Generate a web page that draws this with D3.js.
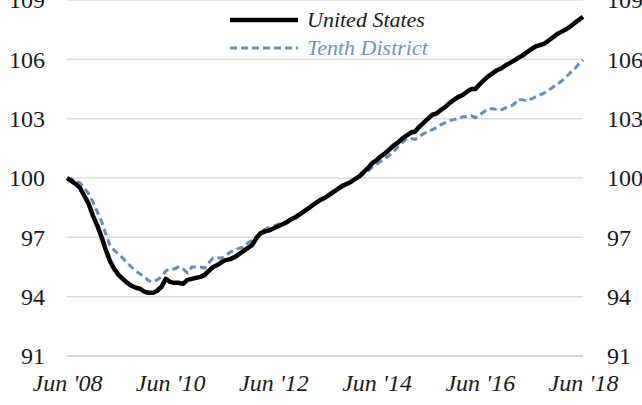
<!DOCTYPE html>
<html>
<head>
<meta charset="utf-8">
<script src="https://cdn.jsdelivr.net/npm/d3@7"></script>
</head>
<body style="margin:0;background:#fff">
<svg id="chart" width="642" height="405" font-family="Liberation Serif" style="display:block"></svg>
<script>
// monthly index, Jun 2008 = 100, through Jun 2018
const startMonth = new Date(2008, 5, 1);

const unitedStates = [
  100.0, 99.85, 99.7, 99.5, 99.1, 98.7, 98.1, 97.6, 97.0, 96.4, 95.8, 95.4,
  95.1, 94.9, 94.7, 94.55, 94.45, 94.4, 94.25, 94.2, 94.2, 94.3, 94.5, 94.9,
  94.75, 94.7, 94.7, 94.65, 94.85, 94.9, 94.95, 95.0, 95.1, 95.3, 95.5, 95.6,
  95.75, 95.85, 95.9, 96.0, 96.15, 96.3, 96.45, 96.6, 96.95, 97.2, 97.3, 97.35,
  97.45, 97.55, 97.65, 97.75, 97.9, 98.0, 98.15, 98.3, 98.45, 98.6, 98.75, 98.9,
  99.0, 99.15, 99.3, 99.45, 99.6, 99.7, 99.8, 99.95, 100.1, 100.3, 100.5, 100.75,
  100.9, 101.1, 101.25, 101.45, 101.65, 101.8, 102.0, 102.15, 102.3, 102.35, 102.6, 102.8,
  103.0, 103.2, 103.27, 103.45, 103.6, 103.8, 103.95, 104.1, 104.2, 104.35, 104.5, 104.5,
  104.75, 104.95, 105.15, 105.3, 105.45, 105.55, 105.7, 105.82, 105.95, 106.08, 106.2, 106.37,
  106.52, 106.65, 106.72, 106.8, 106.95, 107.12, 107.28, 107.4, 107.52, 107.65, 107.82, 107.98,
  108.15
];

const tenthDistrict = [
  100.0, 99.95, 99.85, 99.75, 99.5, 99.2, 98.8, 98.3, 97.8, 97.2, 96.6, 96.35,
  96.15, 95.95, 95.7, 95.5, 95.3, 95.15, 95.0, 94.8, 94.75, 94.85, 95.0, 95.3,
  95.4, 95.4, 95.5, 95.4, 95.2, 95.5, 95.5, 95.5, 95.45, 95.7, 95.95, 95.95,
  95.95, 96.1, 96.25, 96.35, 96.45, 96.5, 96.7, 96.85, 97.05, 97.25, 97.4, 97.5,
  97.55, 97.65, 97.72, 97.8, 97.95, 98.05, 98.2, 98.3, 98.45, 98.6, 98.75, 98.85,
  99.0, 99.15, 99.3, 99.4, 99.55, 99.65, 99.8, 99.9, 100.05, 100.2, 100.35, 100.55,
  100.7, 100.85, 101.0, 101.15, 101.35, 101.6, 101.8, 102.0, 102.0, 101.95, 102.1, 102.25,
  102.35, 102.45, 102.55, 102.7, 102.8, 102.9, 102.95, 103.0, 103.1, 103.1, 103.15, 103.05,
  103.2, 103.35, 103.5, 103.5, 103.45, 103.45, 103.55, 103.6, 103.75, 103.98, 103.95, 103.9,
  104.0, 104.1, 104.2, 104.3, 104.45, 104.6, 104.75, 104.9, 105.1, 105.3, 105.5, 105.75,
  105.97
];

const yTicks = [91, 94, 97, 100, 103, 106, 109];
const xTickYears = [2008, 2010, 2012, 2014, 2016, 2018];

const width = 642, height = 405;
const margin = { top: 0, right: 59, bottom: 49, left: 67 };

const svg = d3.select("#chart");

const months = unitedStates.map((d, i) => d3.timeMonth.offset(startMonth, i));

const x = d3.scaleTime()
  .domain([months[0], months[months.length - 1]])
  .range([margin.left, width - margin.right]);

const y = d3.scaleLinear()
  .domain([91, 109])
  .range([height - margin.bottom, margin.top]);

// gridlines
svg.append("g")
  .selectAll("line")
  .data(yTicks)
  .enter().append("line")
  .attr("x1", x.range()[0])
  .attr("x2", x.range()[1])
  .attr("y1", d => y(d))
  .attr("y2", d => y(d))
  .attr("stroke", d => d === 91 ? "#c4c4c4" : "#dcdcdc")
  .attr("stroke-width", 1.5);

// y labels both sides
const yLeft = d3.axisLeft(y).tickValues(yTicks).tickSize(0).tickPadding(22);
const yRight = d3.axisRight(y).tickValues(yTicks).tickSize(0).tickPadding(24);

svg.append("g")
  .attr("transform", "translate(" + margin.left + ",0)")
  .call(yLeft)
  .call(g => g.select(".domain").remove())
  .call(g => g.attr("font-family", null).attr("font-size", null))
  .selectAll("text")
  .attr("font-family", "Liberation Serif")
  .attr("font-size", 24)
  .attr("fill", "#1a1a1a");

svg.append("g")
  .attr("transform", "translate(" + (width - margin.right) + ",0)")
  .call(yRight)
  .call(g => g.select(".domain").remove())
  .call(g => g.attr("font-family", null).attr("font-size", null))
  .selectAll("text")
  .attr("font-family", "Liberation Serif")
  .attr("font-size", 24)
  .attr("fill", "#1a1a1a");

// x labels
const xAxis = d3.axisBottom(x)
  .tickValues(xTickYears.map(yr => new Date(yr, 5, 1)))
  .tickSize(0)
  .tickPadding(18)
  .tickFormat(d => "Jun '" + d3.timeFormat("%y")(d));

svg.append("g")
  .attr("transform", "translate(0," + y(91) + ")")
  .call(xAxis)
  .call(g => g.select(".domain").remove())
  .call(g => g.attr("font-family", null).attr("font-size", null))
  .selectAll("text")
  .attr("font-family", "Liberation Serif")
  .attr("font-size", 24)
  .attr("font-style", "italic")
  .attr("fill", "#1a1a1a");

// lines
const line = d3.line()
  .x((d, i) => x(months[i]))
  .y(d => y(d));

svg.append("path")
  .datum(tenthDistrict)
  .attr("fill", "none")
  .attr("stroke", "#6b8eb0")
  .attr("stroke-width", 3)
  .attr("stroke-dasharray", "7,4")
  .attr("d", line);

svg.append("path")
  .datum(unitedStates)
  .attr("fill", "none")
  .attr("stroke", "#000")
  .attr("stroke-width", 4.5)
  .attr("stroke-linejoin", "round")
  .attr("d", line);

// legend
const legend = [
  { name: "United States", color: "#000", width: 4.5, dash: null, textColor: "#1a1a1a", y: 20 },
  { name: "Tenth District", color: "#6b8eb0", width: 3, dash: "7,4", textColor: "#7193b5", y: 48 }
];

const lg = svg.append("g");
legend.forEach(d => {
  lg.append("line")
    .attr("x1", 230).attr("x2", 298)
    .attr("y1", d.y).attr("y2", d.y)
    .attr("stroke", d.color)
    .attr("stroke-width", d.width)
    .attr("stroke-dasharray", d.dash);
  lg.append("text")
    .attr("x", 307)
    .attr("y", d.y + 7)
    .attr("font-family", "Liberation Serif")
    .attr("font-size", 22)
    .attr("font-style", "italic")
    .attr("fill", d.textColor)
    .text(d.name);
});
</script>
</body>
</html>
